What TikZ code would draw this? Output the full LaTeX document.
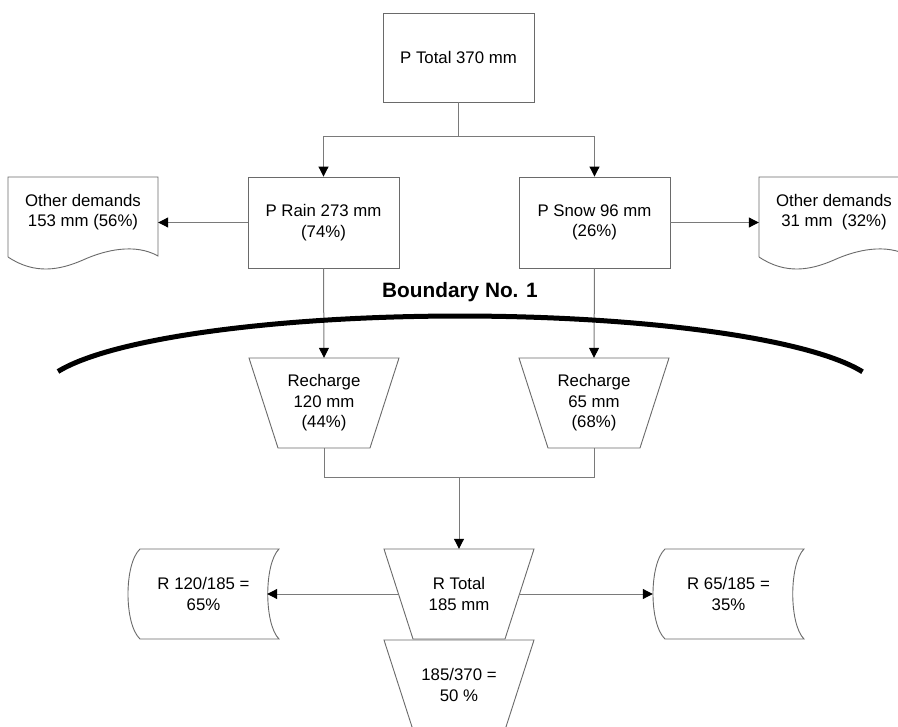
\documentclass[tikz,border=0pt]{standalone}
\usepackage{fontspec}
\setmainfont{Liberation Sans}
\usetikzlibrary{arrows.meta,calc}

\definecolor{edgegray}{HTML}{6A6A6A}
\definecolor{linkgray}{HTML}{7A7A7A}

\newcommand\bodyfont{\fontsize{16.8}{20.5}\selectfont}
\newcommand\headfont{\fontsize{20.8}{24}\selectfont\bfseries}

% outline of a funnel (wide top, narrow bottom) around a node centre
\newcommand\funnel[1]{%
  \draw[outline] ($(#1.center)+(-75,-45)$) -- ($(#1.center)+(75,-45)$)
    -- ($(#1.center)+(46,45)$) -- ($(#1.center)+(-46,45)$) -- cycle;}
% outline of a document sheet with a wavy lower edge, top-left corner given
\newcommand\docsheet[1]{%
  \draw[outline] ($(#1)+(0,80)$) -- (#1) -- ($(#1)+(150,0)$) -- ($(#1)+(150,79)$)
    .. controls ($(#1)+(127,66)$) and ($(#1)+(97,73)$) .. ($(#1)+(75,83)$)
    .. controls ($(#1)+(52,93)$) and ($(#1)+(27,98)$) .. ($(#1)+(0,80)$);}
% outline of a stored-data shape, top-left corner given
\newcommand\storeshape[1]{%
  \draw[outline] (#1) -- ($(#1)+(139,0)$)
    .. controls ($(#1)+(124,15)$) and ($(#1)+(124,75)$) .. ($(#1)+(139,90)$)
    -- ($(#1)+(0,90)$)
    .. controls ($(#1)+(-16,75)$) and ($(#1)+(-16,15)$) .. cycle;}

\tikzset{
  outline/.style={draw=edgegray, line width=0.9pt},
  box/.style={outline, rectangle, minimum width=151pt, minimum height=89pt,
    inner sep=0pt, align=center, font=\bodyfont},
  label/.style={rectangle, inner sep=0pt, align=center, font=\bodyfont},
  line/.style={draw=linkgray, line width=1pt},
  link/.style={line, -{Triangle[length=10pt,width=10pt,color=black]}},
  boundary/.style={draw=black, line width=5pt}
}

\begin{document}
\begin{tikzpicture}[x=1pt,y=-1pt]
  \path[use as bounding box, clip] (0,0) rectangle (898,727);
  \fill[white] (0,0) rectangle (898,727);

  % precipitation boxes
  \node[box] (ptotal) at (458.5,57.5) {P Total 370 mm};
  \node[box, minimum height=91pt] (prain) at (323.5,222.5) {P Rain 273 mm\\(74\%)};
  \node[box, minimum height=91pt] (psnow) at (594.5,222.5) {P Snow 96 mm\\(26\%)};

  % other demands (document sheets)
  \coordinate (docL) at (8,177);
  \coordinate (docR) at (759,177);
  \docsheet{docL}
  \docsheet{docR}
  \node[label, minimum width=150pt, minimum height=70pt] (othL) at (83,212)
    {Other demands\\153 mm (56\%)};
  \node[label, minimum width=150pt, minimum height=70pt] (othR) at (834,212)
    {Other demands\\31 mm\ \ (32\%)};

  % recharge funnels
  \node[label, minimum width=150pt, minimum height=90pt] (rchL) at (324,403)
    {Recharge\\120 mm\\(44\%)};
  \node[label, minimum width=150pt, minimum height=90pt] (rchR) at (594,403)
    {Recharge\\65 mm\\(68\%)};
  \funnel{rchL}
  \funnel{rchR}

  % total recharge and its share
  \node[label, minimum width=121pt, minimum height=90pt] (rtotal) at (459,594)
    {R Total\\185 mm};
  \node[label, minimum width=150pt, minimum height=90pt] (ratio) at (459,685)
    {185/370 =\\50 \%};
  \funnel{rtotal}
  \funnel{ratio}

  % recharge split (stored-data shapes)
  \coordinate (stL) at (140,549);
  \coordinate (stR) at (665,549);
  \storeshape{stL}
  \storeshape{stR}
  \node[label, minimum width=127pt, minimum height=90pt] (rL) at (203.5,594)
    {R 120/185 =\\65\%};
  \node[label, minimum width=151pt, minimum height=90pt] (rR) at (728.5,594)
    {R 65/185 =\\35\%};

  % connectors
  \draw[line] (ptotal.south) -- ++(0,34) coordinate (split);
  \draw[link] (split) -| (prain.north);
  \draw[link] (split) -| (psnow.north);
  \draw[link] (prain.west) -- (othL.east |- prain.west);
  \draw[link] (psnow.east) -- (othR.west |- psnow.east);
  \draw[link] (prain.south) -- (rchL.north);
  \draw[link] (psnow.south) -- (rchR.north);
  \coordinate (join) at ($(rchL.south)!0.5!(rchR.south)+(0,29)$);
  \draw[line] (rchL.south) |- (join) -| (rchR.south);
  \draw[link] (join) -- (rtotal.north);
  \draw[link] (rtotal.west) -- (rL.east);
  \draw[link] (rtotal.east) -- (rR.west);

  % boundary
  \node[font=\headfont, inner sep=0pt] (bname) at (460,292) {Boundary No. 1};
  \draw[boundary] (58,371.5) arc[start angle=-163.2, end angle=-16.6,
    x radius=420, y radius=78];
\end{tikzpicture}
\end{document}
